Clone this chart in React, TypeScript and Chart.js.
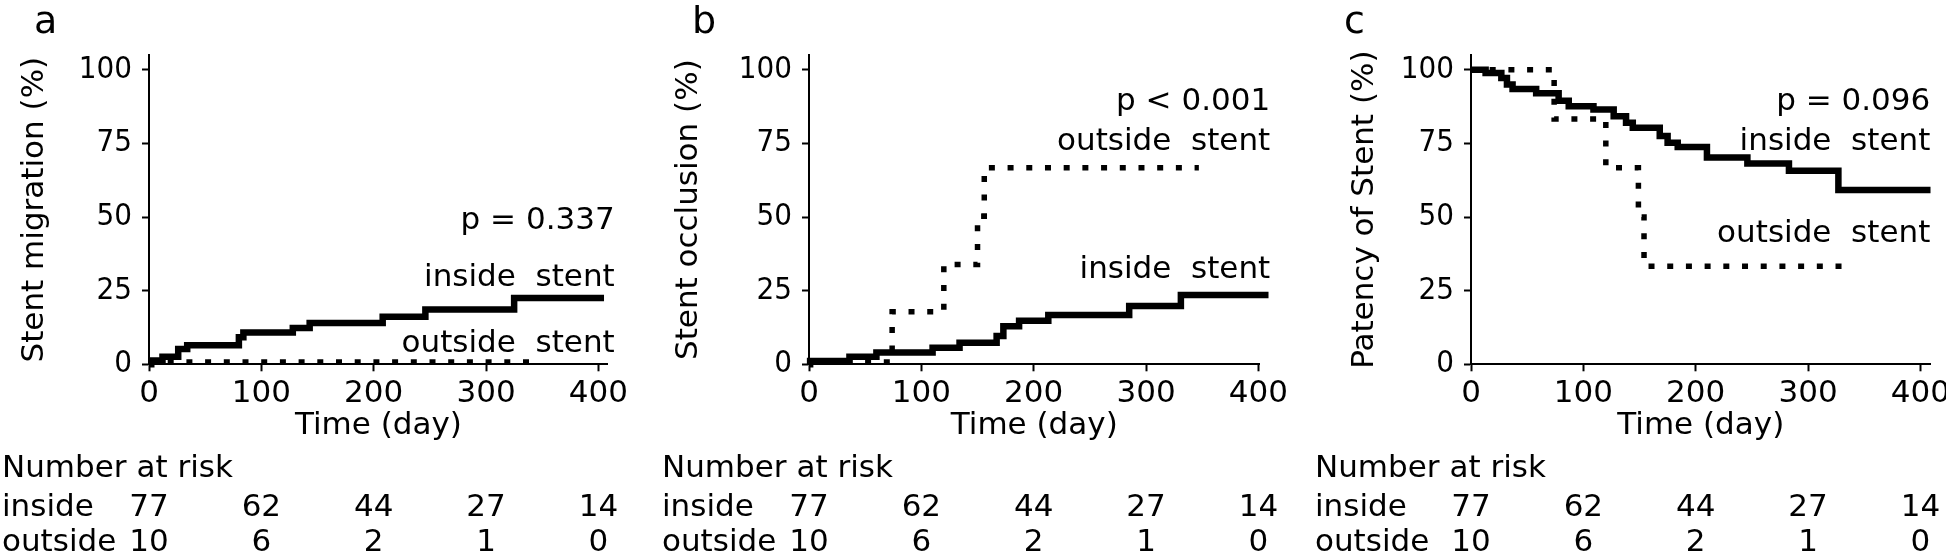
import React, { useEffect, useRef } from "react";
import { Chart, registerables } from "chart.js";

Chart.register(...registerables);

// ---------- data ----------
const timeTicks = [0, 100, 200, 300, 400];
const percentTicks = [0, 25, 50, 75, 100];
const riskGroups = ["inside", "outside"];
const riskInside = [77, 62, 44, 27, 14];
const riskOutside = [10, 6, 2, 1, 0];

// a: stent migration (%)
const aInsideDays = [0, 2, 12, 26, 34, 80, 84, 128, 143, 208, 246, 325, 405];
const aInsideVals = [0, 1.3, 2.6, 5.2, 6.5, 9.2, 10.8, 12.3, 14.0, 16.1, 18.6, 22.5, 22.5];
const aOutsideDays = [0, 343];
const aOutsideVals = [0.8, 0.8];

// b: stent occlusion (%)
const bInsideDays = [0, 1, 36, 60, 110, 134, 167, 173, 187, 213, 285, 331, 409];
const bInsideVals = [0, 1.1, 2.6, 4.0, 5.6, 7.3, 9.6, 12.9, 14.8, 16.7, 19.8, 23.5, 23.5];
const bOutsideDays = [0, 74, 120, 150, 156, 347];
const bOutsideVals = [0.8, 17.8, 33.9, 50.3, 66.7, 66.7];

// c: patency of stent (%)
const cInsideDays = [0, 13, 27, 32, 37, 58, 78, 87, 109, 127, 138, 144, 168, 175, 184, 210, 246, 283, 327, 409];
const cInsideVals = [100, 98.9, 97.2, 95.0, 93.5, 92.0, 89.5, 87.6, 86.5, 84.2, 82.0, 80.3, 77.5, 75.2, 73.8, 70.2, 68.2, 65.7, 59.2, 59.2];
const cOutsideDays = [0, 74, 120, 149, 154, 336];
const cOutsideVals = [100, 83.3, 66.7, 50, 33.3, 33.3];

const panelLetters = ["a", "b", "c"];
const yTitles = ["Stent migration (%)", "Stent occlusion (%)", "Patency of Stent (%)"];
const xTitle = "Time (day)";
const pTexts = ["p = 0.337", "p < 0.001", "p = 0.096"];
const insideLabel = "inside  stent";
const outsideLabel = "outside  stent";
const riskTitle = "Number at risk";

// ---------- layout (styles, not data) ----------
const CANVAS_W = 690;
const CANVAS_H = 555;
const AXIS_X = 175; // y-axis position inside each canvas
const TOP = 55;
const ZERO_Y = 364.3;
const PX_PER_DAY = 1.1235;
const FONT = '"DejaVu Sans", Verdana, sans-serif';
const TICK_FONT = '"DejaVu Sans Condensed", "DejaVu Sans", sans-serif';

type PanelCfg = {
  axisX: number;
  xMax: number;
  letter: string;
  letterDx: number;
  yTitle: string;
  titleDx: number;
  inside: { x: number; y: number }[];
  outside: { x: number; y: number }[];
  labels: { text: string; y: number }[];
  labelAnchorDay: number;
  riskDx: number;
};

const toPts = (d: number[], v: number[]) => d.map((x, i) => ({ x, y: v[i] }));

const panels: PanelCfg[] = [
  {
    axisX: 149.3,
    xMax: 408.5,
    letter: panelLetters[0],
    letterDx: -115,
    yTitle: yTitles[0],
    titleDx: -114,
    inside: toPts(aInsideDays, aInsideVals),
    outside: toPts(aOutsideDays, aOutsideVals),
    labels: [
      { text: pTexts[0], y: 45.9 },
      { text: insideLabel, y: 26.6 },
      { text: outsideLabel, y: 4.3 },
    ],
    labelAnchorDay: 414.5,
    riskDx: -147,
  },
  {
    axisX: 808.8,
    xMax: 401,
    letter: panelLetters[1],
    letterDx: -117,
    yTitle: yTitles[1],
    titleDx: -120,
    inside: toPts(bInsideDays, bInsideVals),
    outside: toPts(bOutsideDays, bOutsideVals),
    labels: [
      { text: pTexts[1], y: 86.3 },
      { text: outsideLabel, y: 72.7 },
      { text: insideLabel, y: 29.3 },
    ],
    labelAnchorDay: 410.5,
    riskDx: -147,
  },
  {
    axisX: 1470.7,
    xMax: 409,
    letter: panelLetters[2],
    letterDx: -127,
    yTitle: yTitles[2],
    titleDx: -106,
    inside: toPts(cInsideDays, cInsideVals),
    outside: toPts(cOutsideDays, cOutsideVals),
    labels: [
      { text: pTexts[2], y: 86.3 },
      { text: insideLabel, y: 72.7 },
      { text: outsideLabel, y: 41.6 },
    ],
    labelAnchorDay: 408.8,
    riskDx: -156,
  },
];

function makeTextPlugin(cfg: PanelCfg) {
  return {
    id: "panelText",
    afterDraw(chart: any) {
      const { ctx, chartArea, scales } = chart;
      const x = scales.x;
      const y = scales.y;
      ctx.save();
      ctx.fillStyle = "#000";
      ctx.textBaseline = "alphabetic";

      // panel letter
      ctx.font = `38px ${FONT}`;
      ctx.textAlign = "left";
      ctx.fillText(cfg.letter, chartArea.left + cfg.letterDx, 33);

      // annotations
      ctx.font = `31px ${FONT}`;
      ctx.textAlign = "right";
      const ax = x.getPixelForValue(cfg.labelAnchorDay);
      cfg.labels.forEach((l) => ctx.fillText(l.text, ax, y.getPixelForValue(l.y)));

      // number at risk
      const lx = chartArea.left + cfg.riskDx;
      ctx.textAlign = "left";
      ctx.fillText(riskTitle, lx, 477);
      ctx.fillText(riskGroups[0], lx, 516);
      ctx.fillText(riskGroups[1], lx, 551);
      ctx.textAlign = "center";
      timeTicks.forEach((t, i) => {
        const px = x.getPixelForValue(t);
        ctx.fillText(String(riskInside[i]), px, 516);
        ctx.fillText(String(riskOutside[i]), px, 551);
      });
      ctx.restore();
    },
  };
}

function Panel({ cfg }: { cfg: PanelCfg }) {
  const ref = useRef<HTMLCanvasElement>(null);
  useEffect(() => {
    const areaW = cfg.xMax * PX_PER_DAY;
    const titleSize = 31;
    const chart = new Chart(ref.current as HTMLCanvasElement, {
      type: "line",
      data: {
        datasets: [
          {
            data: cfg.inside,
            stepped: true,
            borderColor: "#000",
            borderWidth: 6.5,
            pointRadius: 0,
            fill: false,
            borderJoinStyle: "miter",
            borderCapStyle: "butt",
            clip: false,
          } as any,
          {
            data: cfg.outside,
            stepped: true,
            borderColor: "#000",
            borderWidth: 5.5,
            borderDash: [6, 12.7],
            pointRadius: 0,
            fill: false,
            borderJoinStyle: "miter",
            borderCapStyle: "butt",
            clip: false,
          } as any,
        ],
      },
      options: {
        animation: false,
        responsive: false,
        events: [],
        layout: {
          padding: { left: 0, top: TOP, right: CANVAS_W - AXIS_X - areaW, bottom: 0 },
        },
        plugins: { legend: { display: false }, tooltip: { enabled: false } },
        scales: {
          x: {
            type: "linear",
            min: 0,
            max: cfg.xMax,
            afterFit: (s: any) => {
              s.height = CANVAS_H - ZERO_Y;
            },
            afterBuildTicks: (s: any) => {
              s.ticks = timeTicks.map((v) => ({ value: v }));
            },
            grid: { drawOnChartArea: false, drawTicks: true, tickLength: 7, tickWidth: 2, tickColor: "#000" },
            border: { display: true, color: "#000", width: 2 },
            ticks: { color: "#000", font: { family: FONT, size: 31 }, padding: 4, maxRotation: 0, autoSkip: false },
            title: {
              display: true,
              text: xTitle,
              color: "#000",
              font: { family: FONT, size: titleSize },
              padding: { top: 0, bottom: 110 },
            },
          },
          y: {
            type: "linear",
            min: 0,
            max: 105,
            afterFit: (s: any) => {
              s.width = AXIS_X;
            },
            afterBuildTicks: (s: any) => {
              s.ticks = percentTicks.map((v) => ({ value: v }));
            },
            grid: { drawOnChartArea: false, drawTicks: true, tickLength: 7, tickWidth: 2, tickColor: "#000" },
            border: { display: true, color: "#000", width: 2 },
            ticks: { color: "#000", font: { family: TICK_FONT, size: 31 }, padding: 10 },
            title: {
              display: true,
              text: cfg.yTitle,
              color: "#000",
              font: { family: FONT, size: titleSize },
              padding: { top: AXIS_X + cfg.titleDx - (titleSize * 1.2) / 2, bottom: 0 },
            },
          },
        },
      } as any,
      plugins: [makeTextPlugin(cfg)],
    });
    return () => chart.destroy();
  }, [cfg]);
  return (
    <div style={{ position: "absolute", left: cfg.axisX - AXIS_X, top: 0, width: CANVAS_W, height: CANVAS_H }}>
      <canvas ref={ref} width={CANVAS_W} height={CANVAS_H} style={{ display: "block" }} />
    </div>
  );
}

export default function App() {
  return (
    <div
      style={{
        position: "absolute",
        left: 0,
        top: 0,
        width: 1946,
        height: 555,
        overflow: "hidden",
        background: "#fff",
      }}
    >
      {panels.map((p, i) => (
        <Panel key={i} cfg={p} />
      ))}
    </div>
  );
}
